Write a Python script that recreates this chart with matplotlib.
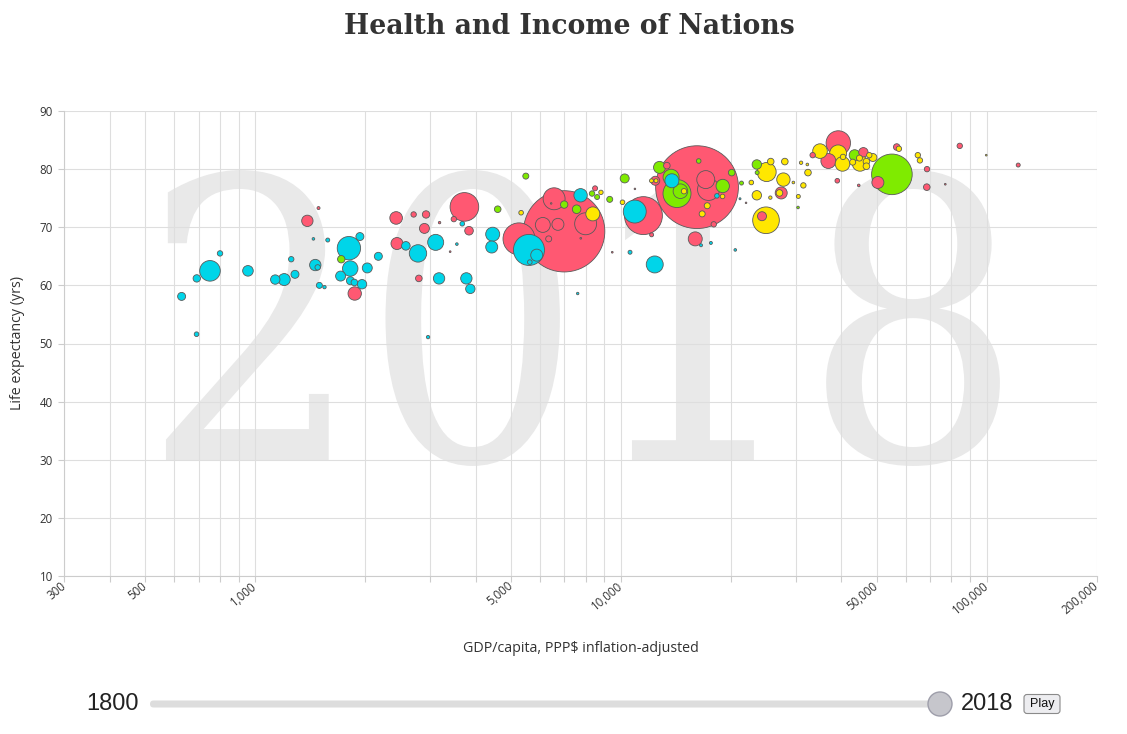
import matplotlib
matplotlib.use("Agg")
import matplotlib.pyplot as plt
import numpy as np
from matplotlib.ticker import FixedLocator, FixedFormatter
from matplotlib.patches import FancyBboxPatch, Circle, PathPatch
from matplotlib.textpath import TextPath
from matplotlib.font_manager import FontProperties
from matplotlib.transforms import Affine2D

# ---------------- data (GDP per capita, life expectancy, population in millions) ----------------
year = "2018"
year_start = "1800"

africa_gdp = [629, 692, 691, 752, 801, 955, 1134, 1200, 1284, 1254, 1442, 1578, 1459, 1481, 1497,
              1546, 1803, 1932, 1818, 1711, 1820, 1866, 1958, 2024, 2170, 2580, 2785, 3113, 3557, 3180,
              3776, 3872, 2967, 3680, 4457, 4430, 5600, 5880, 5630, 7750, 7610, 10900, 10580, 12360, 13770,
              16540, 17600, 20520, 18280, 21140]
africa_life = [58.1, 61.2, 51.6, 62.5, 65.5, 62.5, 61.0, 61.0, 61.9, 64.5, 68.0, 67.8, 63.5, 63.1, 60.0,
               59.7, 66.4, 68.4, 62.9, 61.6, 60.8, 60.5, 60.2, 63.0, 65.0, 66.8, 65.5, 67.4, 67.1, 61.2,
               61.2, 59.4, 51.1, 70.6, 68.8, 66.6, 66.1, 65.2, 64.0, 75.5, 58.6, 72.7, 65.7, 63.6, 78.0,
               66.9, 67.3, 66.1, 75.4, 74.9]
africa_pop = [12.9, 11.0, 4.3, 85.5, 5.9, 22.6, 17.8, 29, 12.9, 5.9, 1.4, 3.2, 26, 5.9, 7.3,
              2.3, 110, 12.9, 47.8, 20, 12.9, 8.8, 17.8, 20, 12.9, 14.9, 61, 51.6, 1.4, 26,
              26, 17.8, 2.3, 4.3, 39.5, 29, 194, 29, 4.3, 36, 1.2, 106, 3.2, 58, 39.5,
              1.8, 1.8, 1.4, 4.3, 0.8]

americas_gdp = [1718, 4600, 5490, 6990, 7560, 8330, 8600, 9310, 10230, 12740, 13700, 14220, 14530,
                16300, 18960, 20060, 21340, 23500, 23550, 30460, 43500, 55000]
americas_life = [64.5, 73.1, 78.8, 73.9, 73.1, 75.8, 75.2, 74.8, 78.4, 80.3, 78.6, 75.8, 76.2,
                 81.4, 77.1, 79.4, 77.6, 80.8, 79.4, 73.4, 82.4, 79.1]
americas_pop = [11, 8.8, 7.3, 11, 14.9, 5.9, 5, 7.3, 16.3, 29, 52, 158, 43,
                4.3, 36, 8.8, 3.2, 17.8, 3.2, 1.4, 24, 332]

asia_gdp = [1489, 1388, 1870, 2427, 2710, 2930, 2900, 2440, 2800, 3730, 3490, 3840, 3190, 5260, 6990,
            6560, 6110, 6720, 6340, 8000, 8490, 12120, 11510, 12400, 16130, 13340, 17040, 17340, 17920,
            15950, 24280, 27400, 39000, 33400, 39250, 36870, 45960, 44640, 50350, 56700, 68600, 68500,
            84300, 121800, 9460, 7760, 76960, 3410, 6440, 10910, 21960]
asia_life = [73.3, 71.1, 58.6, 71.6, 72.2, 72.2, 69.8, 67.2, 61.2, 73.5, 71.4, 69.4, 70.8, 68.0, 69.3,
             74.9, 70.4, 70.5, 68.0, 70.6, 76.7, 68.7, 72.0, 78.0, 76.9, 80.6, 78.2, 76.5, 70.5,
             68.0, 71.9, 75.9, 78.0, 82.4, 84.5, 81.4, 82.9, 77.2, 77.7, 83.8, 80.0, 76.9,
             84.0, 80.7, 65.7, 68.1, 77.4, 65.8, 74.1, 76.6, 74.2]
asia_pop = [1.8, 26, 36, 32, 5.9, 11, 20, 29, 8.8, 165, 5.9, 14.9, 1.2, 206, 1330,
            97, 45, 29, 7.3, 97, 5, 3.2, 290, 16.3, 1380, 8.8, 65, 97, 5.9,
            39.5, 16.3, 29, 4.3, 5.9, 120, 45, 17.8, 1.4, 29, 8.8, 5.9, 8.8,
            5.9, 3.2, 0.6, 0.6, 0.6, 0.6, 0.5, 0.5, 0.5]

europe_gdp = [5330, 8370, 8810, 10090, 12110, 12460, 14860, 17200, 16660, 18940, 22700, 23500, 25000,
              25650, 28030, 27780, 27100, 25590, 24900, 29580, 30520, 31500, 32430, 31050, 32300, 34980,
              39200, 40430, 40300, 42970, 44840, 45000, 46850, 46850, 47700, 48800, 57480, 64750, 65600,
              99600]
europe_life = [72.5, 72.3, 76.0, 74.3, 78.0, 78.0, 76.2, 73.7, 72.3, 75.3, 77.7, 75.5, 79.5,
               81.3, 81.3, 78.2, 75.9, 75.1, 71.2, 77.7, 75.3, 77.2, 79.4, 81.1, 80.8, 83.1,
               82.7, 82.1, 80.9, 81.2, 81.9, 81.0, 81.3, 80.5, 82.4, 82.0, 83.5, 82.4, 81.5,
               82.4]
europe_pop = [4.3, 39.5, 3.9, 4.3, 3.2, 3.2, 5.9, 7.3, 7.3, 4.3, 4.3, 17.8, 73,
              8.8, 8.8, 36, 8.8, 2.3, 143, 1.4, 3.2, 5.9, 8.8, 2.3, 1.4, 43,
              58, 5.9, 43, 7.3, 7.3, 50, 8.8, 8.8, 5.9, 12.9, 5.9, 5.9, 5.9,
              0.6]

region_colors = {"Africa": "#00d5e9", "Americas": "#7feb00", "Asia": "#ff5872", "Europe": "#ffe700"}

x_grid_values = [300, 400, 500, 600, 700, 800, 900,
                 1000, 2000, 3000, 4000, 5000, 6000, 7000, 8000, 9000,
                 10000, 20000, 30000, 40000, 50000, 60000, 70000, 80000, 90000,
                 100000, 200000]
x_labelled = [300, 500, 1000, 5000, 10000, 50000, 100000, 200000]
y_ticks = [10, 20, 30, 40, 50, 60, 70, 80, 90]

# ---------------- figure ----------------
W, H, DPI = 1127, 734, 100
fig = plt.figure(figsize=(W / DPI, H / DPI), dpi=DPI)
fig.patch.set_facecolor("white")
ax = fig.add_axes([64 / W, 1 - 576 / H, (1097 - 64) / W, (576 - 111) / H])

gdp, life, pop, cols = [], [], [], []
for name, g, l, p in [("Africa", africa_gdp, africa_life, africa_pop),
                      ("Americas", americas_gdp, americas_life, americas_pop),
                      ("Asia", asia_gdp, asia_life, asia_pop),
                      ("Europe", europe_gdp, europe_life, europe_pop)]:
    gdp += g
    life += l
    pop += p
    cols += [region_colors[name]] * len(g)
gdp = np.array(gdp, float)
life = np.array(life, float)
pop = np.array(pop, float)
order = np.argsort(-pop)

R_PER_SQRT_M = 1.114  # bubble radius (px) per sqrt(million people)
sizes = (2 * R_PER_SQRT_M * np.sqrt(pop) * 72 / DPI) ** 2

ax.scatter(gdp[order], life[order], s=sizes[order], c=[cols[i] for i in order],
           edgecolors="#5a5a5a", linewidths=0.6, zorder=3)

# year watermark (text outline fitted into a box in axes-fraction space)
tp = TextPath((0, 0), year, size=100, prop=FontProperties(family="DejaVu Serif"))
ext = tp.get_extents()
bx0, bx1, by0, by1 = 0.0987, 0.906, 0.2366, 0.873
wm_tr = (Affine2D().translate(-ext.x0, -ext.y0)
         .scale((bx1 - bx0) / ext.width, (by1 - by0) / ext.height)
         .translate(bx0, by0) + ax.transAxes)
ax.add_artist(PathPatch(tp, fc="#e9e9e9", ec="none", transform=wm_tr, zorder=0))

ax.set_xscale("log")
ax.set_xlim(300, 200000)
ax.set_ylim(10, 90)

ax.xaxis.set_major_locator(FixedLocator(x_grid_values))
ax.xaxis.set_major_formatter(FixedFormatter(
    [f"{v:,}" if v in x_labelled else "" for v in x_grid_values]))
ax.xaxis.set_minor_locator(FixedLocator([]))
ax.yaxis.set_major_locator(FixedLocator(y_ticks))
ax.set_yticklabels([str(v) for v in y_ticks])

ax.grid(True, color="#dedede", linewidth=0.8, zorder=0.5)
ax.set_axisbelow(True)
for s in ["top", "right"]:
    ax.spines[s].set_visible(False)
for s in ["left", "bottom"]:
    ax.spines[s].set_color("#cccccc")
    ax.spines[s].set_linewidth(0.8)

ax.tick_params(axis="both", colors="#cccccc", labelcolor="#333333", labelsize=8.3,
               length=4, width=0.8)
ax.tick_params(axis="y", pad=4)
ax.tick_params(axis="x", pad=2)
for lab in ax.get_xticklabels():
    lab.set_rotation(40)
    lab.set_ha("right")
    lab.set_va("center")
    lab.set_rotation_mode("anchor")
    lab.set_family("Open Sans")
for lab in ax.get_yticklabels():
    lab.set_family("Open Sans")

ax.set_xlabel("GDP/capita, PPP$ inflation-adjusted", fontsize=10.3, family="Open Sans", color="#333333")
ax.set_ylabel("Life expectancy (yrs)", fontsize=10.3, family="Open Sans", color="#333333")
ax.xaxis.set_label_coords(0.5, -0.14)
ax.yaxis.set_label_coords(-0.038, 0.5)

fig.text(569 / W, 1 - 26 / H, "Health and Income of Nations", ha="center", va="center",
         fontsize=19.2, fontweight="bold", family="DejaVu Serif", color="#333333")

# ---------------- slider ----------------
fig.text(113 / W, 1 - 704 / H, year_start, ha="center", va="center", fontsize=17,
         family="Liberation Sans", color="#222222")
fig.text(987 / W, 1 - 704 / H, year, ha="center", va="center", fontsize=17,
         family="Liberation Sans", color="#222222")
track = FancyBboxPatch((1.50, 0.265), 7.9, 0.07, boxstyle="round,pad=0,rounding_size=0.035",
                       fc="#dddddd", ec="none", transform=fig.dpi_scale_trans)
fig.add_artist(track)
knob = Circle((9.40, 0.30), 0.12, fc="#c6c6cc", ec="#9e9eaa", lw=1.0, transform=fig.dpi_scale_trans)
fig.add_artist(knob)
btn = FancyBboxPatch((10.24, 0.205), 0.36, 0.19, boxstyle="round,pad=0,rounding_size=0.03",
                     fc="#ededf0", ec="#8a8a8a", lw=0.8, transform=fig.dpi_scale_trans)
fig.add_artist(btn)
fig.text(1042 / W, 1 - 704 / H, "Play", ha="center", va="center", fontsize=9,
         family="Liberation Sans", color="#111111")

fig.savefig("out.png", dpi=DPI)
